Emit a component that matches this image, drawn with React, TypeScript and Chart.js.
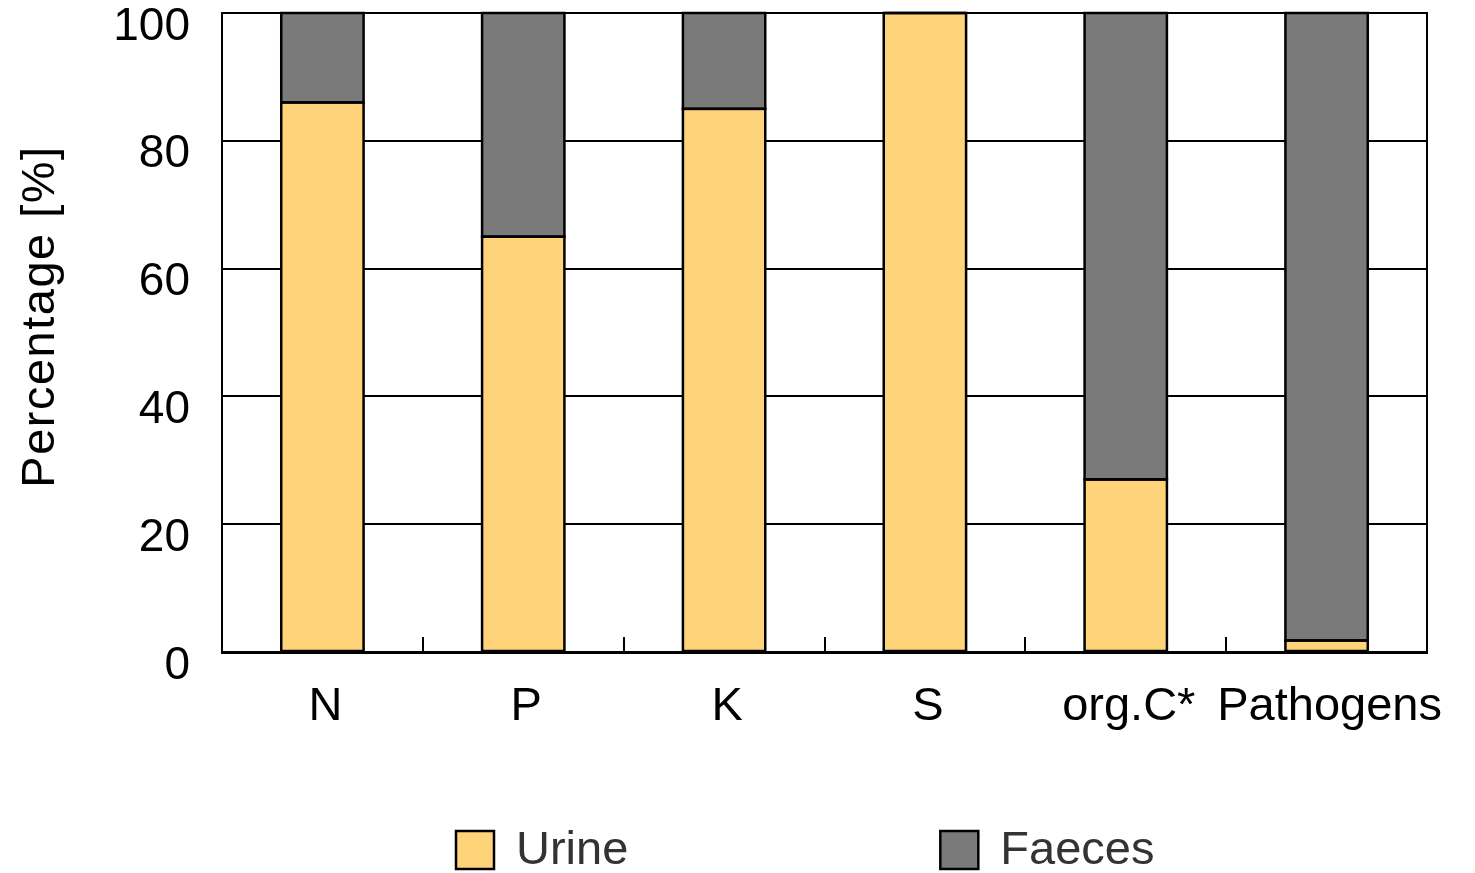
import React, { useEffect, useRef } from "react";
import { Chart, registerables } from "chart.js";

Chart.register(...registerables);

const categories = ["N", "P", "K", "S", "org.C*", "Pathogens"];
const urine = [86, 65, 85, 100, 27, 1.8];
const faeces = [14, 35, 15, 0, 73, 98.2];
const seriesNames = ["Urine", "Faeces"];
const yTickValues = [0, 20, 40, 60, 80, 100];
const yTitle = "Percentage [%]";

const URINE_COLOR = "#FED37A";
const FAECES_COLOR = "#7A7A7A";
const FONT = "'Liberation Sans', Arial, sans-serif";

const barOutlinePlugin = {
  id: "barOutline",
  afterDatasetsDraw(chart: any) {
    const { ctx } = chart;
    ctx.save();
    ctx.strokeStyle = "#000";
    ctx.lineWidth = 2.5;
    chart.data.datasets.forEach((_: any, di: number) => {
      const meta = chart.getDatasetMeta(di);
      meta.data.forEach((el: any) => {
        const { x, y, base, width } = el.getProps(["x", "y", "base", "width"], true);
        const top = Math.min(y, base);
        const h = Math.abs(base - y);
        ctx.strokeRect(x - width / 2, top, width, h);
      });
    });
    ctx.restore();
  },
};

const framePlugin = {
  id: "frame",
  afterDraw(chart: any) {
    const { ctx, chartArea } = chart;
    ctx.save();
    ctx.strokeStyle = "#000";
    ctx.lineWidth = 2;
    ctx.strokeRect(chartArea.left, chartArea.top, chartArea.right - chartArea.left, chartArea.bottom - chartArea.top);
    ctx.restore();
  },
};

const yTitlePlugin = {
  id: "yTitle",
  afterDraw(chart: any) {
    const { ctx, chartArea } = chart;
    const cy = (chartArea.top + chartArea.bottom) / 2 - 16;
    ctx.save();
    ctx.translate(41, cy);
    ctx.rotate(-Math.PI / 2);
    ctx.font = `47px ${FONT}`;
    try {
      (ctx as any).letterSpacing = "1.5px";
    } catch (e) {}
    ctx.fillStyle = "#000";
    ctx.textAlign = "center";
    ctx.textBaseline = "middle";
    ctx.fillText(yTitle, 0, 0);
    ctx.restore();
  },
};

const legendPlugin = {
  id: "customLegend",
  afterDraw(chart: any) {
    const { ctx } = chart;
    const datasets = chart.data.datasets;
    const box = 38;
    const startX = 456;
    const gap = 312;
    const cy = 850;
    ctx.save();
    ctx.font = `47px ${FONT}`;
    ctx.textBaseline = "middle";
    ctx.textAlign = "left";
    let x = startX;
    datasets.forEach((ds: any) => {
      ctx.fillStyle = ds.backgroundColor;
      ctx.fillRect(x, cy - box / 2, box, box);
      ctx.strokeStyle = "#000";
      ctx.lineWidth = 2.5;
      ctx.strokeRect(x, cy - box / 2, box, box);
      const tx = x + box + 22;
      ctx.fillStyle = "#333";
      ctx.fillText(ds.label, tx, cy + 1);
      x = tx + ctx.measureText(ds.label).width + gap;
    });
    ctx.restore();
  },
};

export default function App() {
  const ref = useRef<HTMLCanvasElement>(null);
  useEffect(() => {
    if (!ref.current) return;
    const mkDs = (label: string, data: number[], color: string) => ({
      label,
      data,
      backgroundColor: color,
      borderWidth: 0,
      barPercentage: 0.41,
      categoryPercentage: 1,
    });
    const chart = new Chart(ref.current, {
      type: "bar",
      data: {
        labels: categories,
        datasets: [
          mkDs(seriesNames[0], urine, URINE_COLOR),
          mkDs(seriesNames[1], faeces, FAECES_COLOR),
        ],
      },
      options: {
        responsive: false,
        animation: false,
        layout: { padding: { left: 0, right: 48, top: 13, bottom: 0 } },
        plugins: {
          legend: { display: false },
          tooltip: { enabled: false },
        },
        scales: {
          x: {
            stacked: true,
            z: 1,
            grid: {
              display: true,
              drawOnChartArea: false,
              drawTicks: true,
              tickLength: -15,
              color: "#000",
              lineWidth: 2,
            },
            border: { display: true, color: "#000", width: 3 },
            ticks: {
              color: "#000",
              font: { family: FONT, size: 47 },
              padding: 42,
              labelOffset: 3,
              maxRotation: 0,
              autoSkip: false,
            },
            afterFit(scale: any) {
              scale.height = 221;
              scale.paddingLeft = 0;
              scale.paddingRight = 0;
            },
          },
          y: {
            stacked: true,
            min: 0,
            max: 100,
            z: 1,
            afterBuildTicks(scale: any) {
              scale.ticks = yTickValues.map((v) => ({ value: v }));
            },
            grid: { color: "#000", lineWidth: 2, drawTicks: false },
            border: { display: true, color: "#000", width: 2 },
            ticks: {
              color: "#000",
              font: { family: FONT, size: 46 },
              padding: 32,
              labelOffset: 14,
            },
            title: { display: false },
            afterFit(scale: any) {
              scale.width = 222;
              scale.paddingTop = 0;
              scale.paddingBottom = 0;
            },
          },
        },
      },
      plugins: [barOutlinePlugin, framePlugin, yTitlePlugin, legendPlugin],
    });
    return () => chart.destroy();
  }, []);
  return (
    <div style={{ position: "absolute", left: 0, top: 0, width: 1475, height: 873, background: "#fff" }}>
      <canvas ref={ref} width={1475} height={873} />
    </div>
  );
}
